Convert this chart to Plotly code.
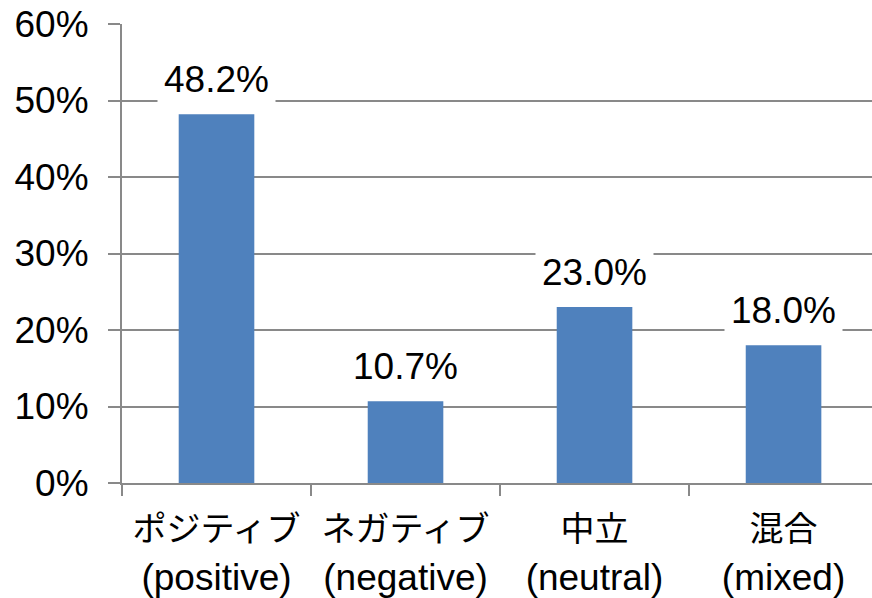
import plotly.graph_objects as go

# Sentiment categories (Japanese label + English gloss) and their shares in percent
labels_ja = ["ポジティブ", "ネガティブ", "中立", "混合"]
labels_en = ["(positive)", "(negative)", "(neutral)", "(mixed)"]
shares = [48.2, 10.7, 23.0, 18.0]
y_ticks = [0, 10, 20, 30, 40, 50, 60]

axis_grey = "#898989"
bar_blue = "#4F81BD"
font_family = "Liberation Sans, Arial, Noto Sans CJK JP, sans-serif"
font_size = 37
ja_size = 34

categories = [f"{ja} {en}" for ja, en in zip(labels_ja, labels_en)]
tick_text = [
    f'<span style="font-size:{ja_size}px">{ja}</span><br>{en}'
    for ja, en in zip(labels_ja, labels_en)
]

fig = go.Figure()
fig.add_trace(go.Bar(
    x=categories,
    y=shares,
    width=0.4,
    marker=dict(color=bar_blue, line=dict(width=0)),
    hoverinfo="skip",
))

# Value labels sit on a white box so the gridlines break around them
for cat, val in zip(categories, shares):
    fig.add_annotation(
        x=cat, y=val, xref="x", yref="y",
        text=f"{val:.1f}%",
        showarrow=False,
        yanchor="bottom",
        yshift=7,
        bgcolor="white",
        borderpad=6,
        font=dict(family=font_family, size=font_size, color="black"),
    )

fig.update_layout(
    width=872, height=598,
    margin=dict(l=122, r=0, t=24, b=115),
    paper_bgcolor="white",
    plot_bgcolor="white",
    showlegend=False,
    font=dict(family=font_family, size=font_size, color="black"),
)

fig.update_xaxes(
    type="category",
    range=[-0.5, 3.468],
    automargin=False,
    tickangle=0,
    tickvals=categories,
    ticktext=tick_text,
    showline=True, linecolor=axis_grey, linewidth=2,
    ticks="outside", tickson="boundaries", ticklen=11,
    tickcolor=axis_grey, tickwidth=2,
    showgrid=False,
    ticklabelstandoff=12,
    tickfont=dict(family=font_family, size=font_size, color="black"),
)

fig.update_yaxes(
    range=[0, 60],
    automargin=False,
    tickvals=y_ticks,
    ticktext=[f"{v}%" for v in y_ticks],
    showline=True, linecolor=axis_grey, linewidth=2,
    ticks="outside", ticklen=12, tickcolor=axis_grey, tickwidth=2,
    showgrid=True, gridcolor=axis_grey, gridwidth=2,
    zeroline=False,
    ticklabelstandoff=12,
    tickfont=dict(family=font_family, size=font_size, color="black"),
)

fig.write_html("out.html")
